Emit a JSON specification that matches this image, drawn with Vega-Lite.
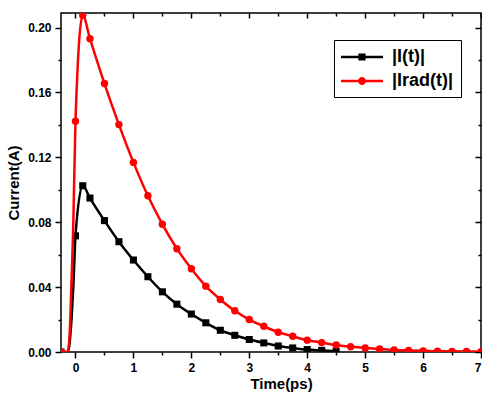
{
  "$schema": "https://vega.github.io/schema/vega-lite/v6.json",
  "width": 420,
  "height": 339,
  "autosize": "none",
  "padding": {"left": 61, "top": 13, "right": 1, "bottom": 42},
  "background": "white",
  "datasets": {
    "markers": [
      {"series": "|I(t)|", "t": -0.25, "current": 0},
      {"series": "|I(t)|", "t": 0, "current": 0.0716},
      {"series": "|I(t)|", "t": 0.125, "current": 0.1025},
      {"series": "|I(t)|", "t": 0.25, "current": 0.0949},
      {"series": "|I(t)|", "t": 0.5, "current": 0.081},
      {"series": "|I(t)|", "t": 0.75, "current": 0.068},
      {"series": "|I(t)|", "t": 1.0, "current": 0.0567},
      {"series": "|I(t)|", "t": 1.25, "current": 0.0464},
      {"series": "|I(t)|", "t": 1.5, "current": 0.0371},
      {"series": "|I(t)|", "t": 1.75, "current": 0.0295},
      {"series": "|I(t)|", "t": 2.0, "current": 0.0234},
      {"series": "|I(t)|", "t": 2.25, "current": 0.018},
      {"series": "|I(t)|", "t": 2.5, "current": 0.0134},
      {"series": "|I(t)|", "t": 2.75, "current": 0.0103},
      {"series": "|I(t)|", "t": 3.0, "current": 0.0077},
      {"series": "|I(t)|", "t": 3.25, "current": 0.0056},
      {"series": "|I(t)|", "t": 3.5, "current": 0.0037},
      {"series": "|I(t)|", "t": 3.75, "current": 0.0025},
      {"series": "|I(t)|", "t": 4.0, "current": 0.0015},
      {"series": "|I(t)|", "t": 4.25, "current": 0.001},
      {"series": "|I(t)|", "t": 4.5, "current": 0.0005},
      {"series": "|Irad(t)|", "t": -0.25, "current": 0},
      {"series": "|Irad(t)|", "t": 0, "current": 0.1423},
      {"series": "|Irad(t)|", "t": 0.125, "current": 0.2076},
      {"series": "|Irad(t)|", "t": 0.25, "current": 0.1932},
      {"series": "|Irad(t)|", "t": 0.5, "current": 0.1655},
      {"series": "|Irad(t)|", "t": 0.75, "current": 0.1402},
      {"series": "|Irad(t)|", "t": 1.0, "current": 0.1169},
      {"series": "|Irad(t)|", "t": 1.25, "current": 0.0963},
      {"series": "|Irad(t)|", "t": 1.5, "current": 0.0788},
      {"series": "|Irad(t)|", "t": 1.75, "current": 0.0637},
      {"series": "|Irad(t)|", "t": 2.0, "current": 0.0513},
      {"series": "|Irad(t)|", "t": 2.25, "current": 0.0406},
      {"series": "|Irad(t)|", "t": 2.5, "current": 0.0324},
      {"series": "|Irad(t)|", "t": 2.75, "current": 0.0254},
      {"series": "|Irad(t)|", "t": 3.0, "current": 0.02},
      {"series": "|Irad(t)|", "t": 3.25, "current": 0.0159},
      {"series": "|Irad(t)|", "t": 3.5, "current": 0.0122},
      {"series": "|Irad(t)|", "t": 3.75, "current": 0.0097},
      {"series": "|Irad(t)|", "t": 4.0, "current": 0.0073},
      {"series": "|Irad(t)|", "t": 4.25, "current": 0.0058},
      {"series": "|Irad(t)|", "t": 4.5, "current": 0.0043},
      {"series": "|Irad(t)|", "t": 4.75, "current": 0.0032},
      {"series": "|Irad(t)|", "t": 5.0, "current": 0.0025},
      {"series": "|Irad(t)|", "t": 5.25, "current": 0.0018},
      {"series": "|Irad(t)|", "t": 5.5, "current": 0.0013},
      {"series": "|Irad(t)|", "t": 5.75, "current": 0.001},
      {"series": "|Irad(t)|", "t": 6.0, "current": 0.0007},
      {"series": "|Irad(t)|", "t": 6.25, "current": 0.0005},
      {"series": "|Irad(t)|", "t": 6.5, "current": 0.0004},
      {"series": "|Irad(t)|", "t": 6.75, "current": 0.0003},
      {"series": "|Irad(t)|", "t": 7.0, "current": 0.0002}
    ],
    "curve": [
      {"series": "|I(t)|", "t": -0.25, "current": 0},
      {"series": "|I(t)|", "t": -0.14, "current": 0},
      {"series": "|I(t)|", "t": -0.11, "current": 0.003},
      {"series": "|I(t)|", "t": -0.09, "current": 0.01},
      {"series": "|I(t)|", "t": -0.065, "current": 0.022},
      {"series": "|I(t)|", "t": -0.035, "current": 0.042},
      {"series": "|I(t)|", "t": 0, "current": 0.0716},
      {"series": "|I(t)|", "t": 0.125, "current": 0.1025},
      {"series": "|I(t)|", "t": 0.25, "current": 0.0949},
      {"series": "|I(t)|", "t": 0.5, "current": 0.081},
      {"series": "|I(t)|", "t": 0.75, "current": 0.068},
      {"series": "|I(t)|", "t": 1.0, "current": 0.0567},
      {"series": "|I(t)|", "t": 1.25, "current": 0.0464},
      {"series": "|I(t)|", "t": 1.5, "current": 0.0371},
      {"series": "|I(t)|", "t": 1.75, "current": 0.0295},
      {"series": "|I(t)|", "t": 2.0, "current": 0.0234},
      {"series": "|I(t)|", "t": 2.25, "current": 0.018},
      {"series": "|I(t)|", "t": 2.5, "current": 0.0134},
      {"series": "|I(t)|", "t": 2.75, "current": 0.0103},
      {"series": "|I(t)|", "t": 3.0, "current": 0.0077},
      {"series": "|I(t)|", "t": 3.25, "current": 0.0056},
      {"series": "|I(t)|", "t": 3.5, "current": 0.0037},
      {"series": "|I(t)|", "t": 3.75, "current": 0.0025},
      {"series": "|I(t)|", "t": 4.0, "current": 0.0015},
      {"series": "|I(t)|", "t": 4.25, "current": 0.001},
      {"series": "|I(t)|", "t": 4.5, "current": 0.0005},
      {"series": "|Irad(t)|", "t": -0.25, "current": 0},
      {"series": "|Irad(t)|", "t": -0.14, "current": 0},
      {"series": "|Irad(t)|", "t": -0.11, "current": 0.006},
      {"series": "|Irad(t)|", "t": -0.09, "current": 0.02},
      {"series": "|Irad(t)|", "t": -0.07, "current": 0.042},
      {"series": "|Irad(t)|", "t": -0.04, "current": 0.075},
      {"series": "|Irad(t)|", "t": 0, "current": 0.1423},
      {"series": "|Irad(t)|", "t": 0.125, "current": 0.2076},
      {"series": "|Irad(t)|", "t": 0.25, "current": 0.1932},
      {"series": "|Irad(t)|", "t": 0.5, "current": 0.1655},
      {"series": "|Irad(t)|", "t": 0.75, "current": 0.1402},
      {"series": "|Irad(t)|", "t": 1.0, "current": 0.1169},
      {"series": "|Irad(t)|", "t": 1.25, "current": 0.0963},
      {"series": "|Irad(t)|", "t": 1.5, "current": 0.0788},
      {"series": "|Irad(t)|", "t": 1.75, "current": 0.0637},
      {"series": "|Irad(t)|", "t": 2.0, "current": 0.0513},
      {"series": "|Irad(t)|", "t": 2.25, "current": 0.0406},
      {"series": "|Irad(t)|", "t": 2.5, "current": 0.0324},
      {"series": "|Irad(t)|", "t": 2.75, "current": 0.0254},
      {"series": "|Irad(t)|", "t": 3.0, "current": 0.02},
      {"series": "|Irad(t)|", "t": 3.25, "current": 0.0159},
      {"series": "|Irad(t)|", "t": 3.5, "current": 0.0122},
      {"series": "|Irad(t)|", "t": 3.75, "current": 0.0097},
      {"series": "|Irad(t)|", "t": 4.0, "current": 0.0073},
      {"series": "|Irad(t)|", "t": 4.25, "current": 0.0058},
      {"series": "|Irad(t)|", "t": 4.5, "current": 0.0043},
      {"series": "|Irad(t)|", "t": 4.75, "current": 0.0032},
      {"series": "|Irad(t)|", "t": 5.0, "current": 0.0025},
      {"series": "|Irad(t)|", "t": 5.25, "current": 0.0018},
      {"series": "|Irad(t)|", "t": 5.5, "current": 0.0013},
      {"series": "|Irad(t)|", "t": 5.75, "current": 0.001},
      {"series": "|Irad(t)|", "t": 6.0, "current": 0.0007},
      {"series": "|Irad(t)|", "t": 6.25, "current": 0.0005},
      {"series": "|Irad(t)|", "t": 6.5, "current": 0.0004},
      {"series": "|Irad(t)|", "t": 6.75, "current": 0.0003},
      {"series": "|Irad(t)|", "t": 7.0, "current": 0.0002}
    ]
  },
  "config": {
    "view": {"stroke": "black", "strokeWidth": 1.5},
    "axis": {
      "grid": false,
      "domain": false,
      "tickColor": "black",
      "tickWidth": 1.5,
      "labelFont": "Liberation Sans",
      "labelFontWeight": "bold",
      "labelFontSize": 12,
      "labelColor": "black",
      "titleFont": "Liberation Sans",
      "titleFontWeight": "bold",
      "titleFontSize": 15,
      "titleColor": "black"
    }
  },
  "resolve": {"axis": {"x": "independent", "y": "independent"}},
  "layer": [
    {
      "data": {"name": "curve"},
      "transform": [{"filter": "datum.series === '|I(t)|'"}],
      "mark": {"type": "line", "interpolate": "monotone", "strokeWidth": 2.5, "clip": true},
      "encoding": {
        "x": {"field": "t", "type": "quantitative",
          "scale": {"domain": [-0.25, 7], "nice": false, "zero": false},
          "axis": {"orient": "bottom", "values": [0, 1, 2, 3, 4, 5, 6, 7], "tickSize": 6, "labelPadding": 4, "title": "Time(ps)", "titleX": 220, "titlePadding": 3}},
        "y": {"field": "current", "type": "quantitative",
          "scale": {"domain": [0, 0.209], "nice": false},
          "axis": {"orient": "left", "values": [0, 0.04, 0.08, 0.12, 0.16, 0.2], "format": ".2f", "tickSize": 6, "labelPadding": 4, "title": "Current(A)", "titlePadding": 6}},
        "color": {"field": "series", "type": "nominal",
          "scale": {"domain": ["|I(t)|", "|Irad(t)|"], "range": ["black", "red"]},
          "legend": {
            "title": null,
            "orient": "none",
            "legendX": 273,
            "legendY": 27,
            "strokeColor": "black",
            "fillColor": "white",
            "padding": 7,
            "labelFont": "Liberation Sans",
            "labelFontWeight": "bold",
            "labelFontSize": 18,
            "labelColor": "black",
            "symbolSize": 400,
            "labelOffset": 31,
            "rowPadding": 5,
            "symbolStrokeWidth": 0,
            "encode": {
              "symbols": {
                "update": {
                  "shape": {"signal": "datum.value === '|I(t)|' ? 'M-1,-0.12H3.2V0.12H-1Z M0.74,-0.36H1.46V0.36H0.74Z' : 'M-1,-0.12H3.2V0.12H-1Z M1.5,0A0.4,0.4 0 1,1 0.7,0A0.4,0.4 0 1,1 1.5,0Z'"},
                  "fill": {"signal": "datum.value === '|I(t)|' ? 'black' : 'red'"},
                  "fillOpacity": {"value": 1},
                  "strokeWidth": {"value": 0}
                }
              }
            }
          }
        }
      }
    },
    {
      "data": {"name": "markers"},
      "transform": [{"filter": "datum.series === '|I(t)|'"}],
      "mark": {"type": "point", "shape": "square", "filled": true, "size": 50, "opacity": 1, "clip": true},
      "encoding": {
        "x": {"field": "t", "type": "quantitative",
          "axis": {"orient": "bottom", "values": [0.5, 1.5, 2.5, 3.5, 4.5, 5.5, 6.5], "tickSize": 3, "labels": false, "title": null}},
        "y": {"field": "current", "type": "quantitative",
          "axis": {"orient": "left", "values": [0.02, 0.06, 0.1, 0.14, 0.18], "tickSize": 3, "labels": false, "title": null}},
        "color": {"field": "series", "type": "nominal"}
      }
    },
    {
      "data": {"name": "curve"},
      "transform": [{"filter": "datum.series === '|Irad(t)|'"}],
      "mark": {"type": "line", "interpolate": "monotone", "strokeWidth": 2.5, "clip": true},
      "encoding": {
        "x": {"field": "t", "type": "quantitative",
          "axis": {"orient": "top", "values": [0, 1, 2, 3, 4, 5, 6, 7], "tickSize": -5, "labels": false, "title": null}},
        "y": {"field": "current", "type": "quantitative",
          "axis": {"orient": "right", "values": [0, 0.04, 0.08, 0.12, 0.16, 0.2], "tickSize": -6, "labels": false, "title": null}},
        "color": {"field": "series", "type": "nominal"}
      }
    },
    {
      "data": {"name": "markers"},
      "transform": [{"filter": "datum.series === '|Irad(t)|'"}],
      "mark": {"type": "point", "shape": "circle", "filled": true, "size": 55, "opacity": 1, "clip": true},
      "encoding": {
        "x": {"field": "t", "type": "quantitative",
          "axis": {"orient": "top", "values": [0.5, 1.5, 2.5, 3.5, 4.5, 5.5, 6.5], "tickSize": -3, "labels": false, "title": null}},
        "y": {"field": "current", "type": "quantitative",
          "axis": {"orient": "right", "values": [0.02, 0.06, 0.1, 0.14, 0.18], "tickSize": -3, "labels": false, "title": null}},
        "color": {"field": "series", "type": "nominal"}
      }
    }
  ]
}
